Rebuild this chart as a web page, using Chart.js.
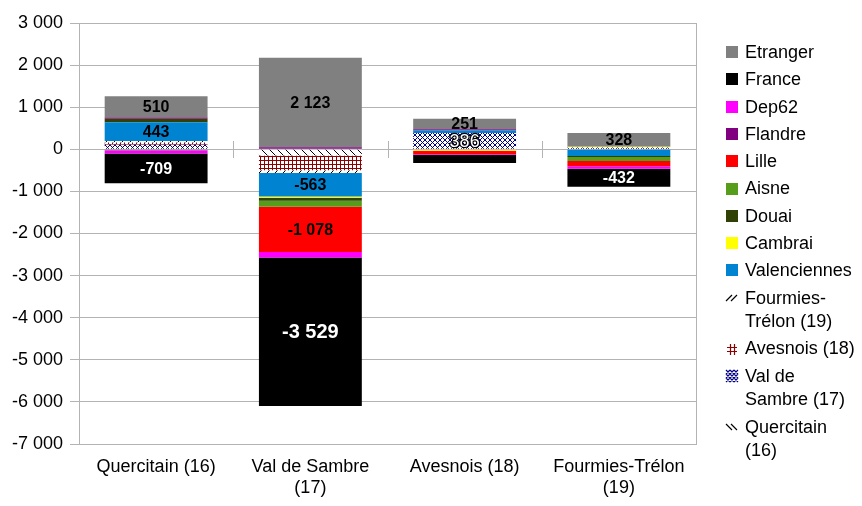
<!DOCTYPE html>
<html>
<head>
<meta charset="utf-8">
<script src="https://cdn.jsdelivr.net/npm/chart.js@4.4.0/dist/chart.umd.min.js"></script>
<style>
  html, body { margin: 0; padding: 0; background: #fff; }
</style>
</head>
<body>
<canvas id="myChart" width="862" height="506"></canvas>
<script>
  // categories (x axis)
  const categories = ['Quercitain (16)', ['Val de Sambre', '(17)'], 'Avesnois (18)', ['Fourmies-Trélon', '(19)']];

  // one array per series, same order as categories
  const quercitain16 = [0, -150, 0, 0];
  const valDeSambre17 = [110, 0, 386, 40];
  const avesnois18 = [50, -350, 0, 0];
  const fourmies19 = [40, -60, 0, 0];
  const valenciennes = [443, -563, 60, -160];
  const cambrai = [0, -30, -35, 20];
  const douai = [85, -70, 0, -20];
  const aisne = [-25, -140, 0, -100];
  const lille = [0, -1078, -80, -120];
  const flandre = [25, 50, 30, 0];
  const dep62 = [-75, -130, -20, -60];
  const france = [-709, -3529, -190, -432];
  const etranger = [510, 2123, 251, 328];

  // y axis ticks
  const yMin = -7000, yMax = 3000, yStep = 1000;

  const FONT = '"Liberation Sans", Arial, sans-serif';
  const GRID = '#b3b3b3';

  function fmt(n) {
    const s = Math.abs(Math.round(n)).toString().replace(/\B(?=(\d{3})+(?!\d))/g, ' ');
    return (n < 0 ? '-' : '') + s;
  }

  // hatch patterns for the four "internal" series
  function hatch(color, kind, size) {
    const c = document.createElement('canvas');
    c.width = size; c.height = size;
    const g = c.getContext('2d');
    g.fillStyle = '#fff';
    g.fillRect(0, 0, size, size);
    g.strokeStyle = color;
    g.lineWidth = 1;
    g.beginPath();
    for (let k = -size; k <= size; k += size) {
      if (kind === 'back' || kind === 'cross') { g.moveTo(k, 0); g.lineTo(k + size, size); }
      if (kind === 'fwd' || kind === 'cross') { g.moveTo(k + size, 0); g.lineTo(k, size); }
    }
    if (kind === 'grid') {
      g.moveTo(0, 0.5); g.lineTo(size, 0.5);
      g.moveTo(0.5, 0); g.lineTo(0.5, size);
    }
    g.stroke();
    const p = g.createPattern(c, 'repeat');
    p.kind = kind; p.ink = color;
    return p;
  }

  const cv = document.getElementById('myChart');

  const series = [
    { name: 'Quercitain (16)', data: quercitain16, color: hatch('#000000', 'back', 8) },
    { name: 'Val de Sambre (17)', data: valDeSambre17, color: hatch('#000080', 'cross', 5) },
    { name: 'Avesnois (18)', data: avesnois18, color: hatch('#8b0000', 'grid', 4) },
    { name: 'Fourmies-Trélon (19)', data: fourmies19, color: hatch('#000000', 'fwd', 8) },
    { name: 'Valenciennes', data: valenciennes, color: '#0084d1' },
    { name: 'Cambrai', data: cambrai, color: '#ffff00' },
    { name: 'Douai', data: douai, color: '#314004' },
    { name: 'Aisne', data: aisne, color: '#579d1c' },
    { name: 'Lille', data: lille, color: '#ff0000' },
    { name: 'Flandre', data: flandre, color: '#800080' },
    { name: 'Dep62', data: dep62, color: '#ff00ff' },
    { name: 'France', data: france, color: '#000000' },
    { name: 'Etranger', data: etranger, color: '#808080' }
  ];

  // which series get value labels, and how they look
  const labelStyles = {
    'Etranger': { fill: '#000', bold: true },
    'France': { fill: '#fff', bold: true },
    'Valenciennes': { fill: '#000', bold: true },
    'Lille': { fill: '#000', bold: true },
    'Val de Sambre (17)': { fill: '#fff', stroke: '#000', bold: false }
  };

  const frame = {
    id: 'frame',
    beforeDatasetsDraw(chart) {
      const a = chart.chartArea, c = chart.ctx;
      c.save();
      c.strokeStyle = GRID;
      c.lineWidth = 1;
      c.strokeRect(Math.round(a.left) + 0.5, Math.round(a.top) + 0.5, Math.round(a.right - a.left), Math.round(a.bottom - a.top));
      // small marks between categories on the zero line
      const y0 = Math.round(chart.scales.y.getPixelForValue(0));
      const n = categories.length, w = (a.right - a.left) / n;
      c.beginPath();
      for (let i = 1; i < n; i++) {
        const x = Math.round(a.left + i * w) + 0.5;
        c.moveTo(x, y0 - 8); c.lineTo(x, y0 + 9);
      }
      c.stroke();
      c.restore();
    }
  };

  const valueLabels = {
    id: 'valueLabels',
    afterDatasetsDraw(chart) {
      const c = chart.ctx;
      c.save();
      c.textAlign = 'center';
      c.textBaseline = 'middle';
      chart.data.datasets.forEach((ds, i) => {
        const st = labelStyles[ds.label];
        if (!st) return;
        chart.getDatasetMeta(i).data.forEach((bar, j) => {
          const v = ds.data[j];
          if (Math.abs(v) < 250) return;
          const y = (bar.y + bar.base) / 2;
          const size = Math.abs(v) >= 3000 ? 20 : (st.bold ? 16 : 18);
          c.font = (st.bold ? 'bold ' : '') + size + 'px ' + FONT;
          const t = fmt(v);
          if (st.stroke) {
            c.lineWidth = 2.5;
            c.strokeStyle = st.stroke;
            c.lineJoin = 'round';
            c.strokeText(t, bar.x, y + 1);
          }
          c.fillStyle = st.fill;
          c.fillText(t, bar.x, y + 1);
        });
      });
      c.restore();
    }
  };

  function legendIcon(c, col, x, y) {
    if (typeof col === 'string') {
      c.fillStyle = col;
      c.fillRect(x, y, 12, 12);
      return;
    }
    c.strokeStyle = col.ink;
    c.lineWidth = 1.2;
    c.beginPath();
    if (col.kind === 'fwd') {
      c.moveTo(x, y + 9); c.lineTo(x + 6, y + 3);
      c.moveTo(x + 5, y + 9); c.lineTo(x + 11, y + 3);
    } else if (col.kind === 'back') {
      c.moveTo(x, y + 3); c.lineTo(x + 6, y + 9);
      c.moveTo(x + 5, y + 3); c.lineTo(x + 11, y + 9);
    } else if (col.kind === 'grid') {
      c.moveTo(x + 1, y + 4.5); c.lineTo(x + 11, y + 4.5);
      c.moveTo(x + 1, y + 8.5); c.lineTo(x + 11, y + 8.5);
      c.moveTo(x + 4.5, y + 1); c.lineTo(x + 4.5, y + 12);
      c.moveTo(x + 8.5, y + 1); c.lineTo(x + 8.5, y + 12);
    } else {
      for (let k = 0; k <= 8; k += 4) {
        c.moveTo(x + k, y); c.lineTo(x + 12, y + 12 - k);
        c.moveTo(x, y + k); c.lineTo(x + 12 - k, y + 12);
        c.moveTo(x + 12 - k, y); c.lineTo(x, y + 12 - k);
        c.moveTo(x + 12, y + k); c.lineTo(x + k, y + 12);
      }
    }
    c.stroke();
  }

  // legend on the right, reversed order, wrapped like the reference
  const sideLegend = {
    id: 'sideLegend',
    afterDraw(chart) {
      const c = chart.ctx;
      const boxX = 726, textX = 745, maxW = 862 - textX - 2;
      const lineH = 23.5, gap = 3.8;
      let y = 52;
      c.save();
      c.font = '18px ' + FONT;
      c.textBaseline = 'middle';
      const items = chart.data.datasets.slice().reverse();
      items.forEach(ds => {
        legendIcon(c, ds.backgroundColor, boxX, Math.round(y - 6));
        // wrap the name
        const parts = ds.label.split(/(?<=[ -])/);
        const lines = [];
        let cur = '';
        parts.forEach(p => {
          const test = cur + p;
          if (cur && c.measureText(test.trimEnd()).width > maxW) { lines.push(cur.trimEnd()); cur = p; }
          else cur = test;
        });
        lines.push(cur.trimEnd());
        c.fillStyle = '#000';
        lines.forEach((l, k) => c.fillText(l, textX, y + 1 + k * lineH));
        y += lines.length * lineH + gap;
      });
      c.restore();
    }
  };

  const configuration = {
    type: 'bar',
    data: {
      labels: categories,
      datasets: series.map(s => ({
        label: s.name,
        data: s.data,
        backgroundColor: s.color,
        borderWidth: 0,
        barPercentage: 0.667,
        categoryPercentage: 1
      }))
    },
    options: {
      responsive: false,
      animation: false,
      layout: { padding: { top: 23, right: 166, bottom: 0, left: 0 } },
      plugins: {
        legend: { display: false },
        tooltip: { enabled: false }
      },
      scales: {
        x: {
          stacked: true,
          grid: { display: false, drawTicks: false },
          border: { display: true, color: GRID },
          ticks: { color: '#000', font: { family: FONT, size: 18 }, padding: 12, maxRotation: 0, autoSkip: false },
          afterFit: s => { s.height = 62; }
        },
        y: {
          stacked: true,
          min: yMin,
          max: yMax,
          ticks: { stepSize: yStep, color: '#000', font: { family: FONT, size: 18 }, padding: 7, callback: v => fmt(v) },
          grid: { color: GRID, tickLength: 9 },
          border: { color: GRID },
          afterFit: s => { s.width = 79; }
        }
      }
    },
    plugins: [frame, valueLabels, sideLegend]
  };

  new Chart(cv, configuration);
</script>
</body>
</html>
